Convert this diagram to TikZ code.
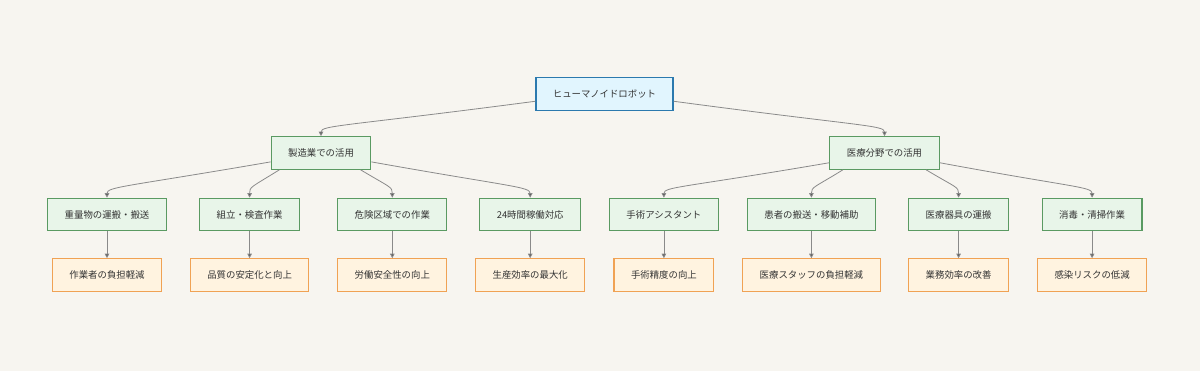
\documentclass[tikz,border=0pt]{standalone}
\usepackage{fontspec}
\usepackage{xcolor}
\usetikzlibrary{arrows.meta}
\newfontfamily\jpfont{Noto Sans CJK JP}
\definecolor{paper}{HTML}{F7F5F0}
\definecolor{rootfill}{HTML}{E1F5FE}
\definecolor{rootline}{HTML}{2B79AE}
\definecolor{leaffill}{HTML}{E8F5E9}
\definecolor{leafline}{HTML}{5A9A62}
\definecolor{gainfill}{HTML}{FFF3E0}
\definecolor{gainline}{HTML}{F0A254}
\definecolor{inkgray}{HTML}{333333}
\definecolor{wiregray}{HTML}{8A8A8A}

\begin{document}
\begin{tikzpicture}[
  x=1pt, y=-1pt,
  every node/.style={rectangle, sharp corners, align=center, font=\jpfont\fontsize{9.4}{11}\selectfont,
    text=inkgray, inner xsep=17pt, minimum height=32.5pt},
  robot/.style={fill=rootfill, draw=rootline, line width=1.3pt},
  usecase/.style={fill=leaffill, draw=leafline, line width=1.1pt},
  effect/.style={fill=gainfill, draw=gainline, line width=1.1pt},
  arrow/.style={-{Triangle[length=4.5pt, width=4.5pt, fill=black!65]}, line width=0.8pt, wiregray}
]

% background and margins
\fill[paper] (0,0) rectangle (1200,371);

% Top node: humanoid robot
\node[robot] (robot) at (604.5,94) {ヒューマノイドロボット};

% Second row: the two fields
\node[usecase] (manu) at (321,153) {製造業での活用};
\node[usecase] (medi) at (884.5,153) {医療分野での活用};

% Third row: manufacturing uses
\node[usecase] (heavy)  at (107,214.5)   {重量物の運搬・搬送};
\node[usecase] (assem)  at (249.6,214.5) {組立・検査作業};
\node[usecase] (danger) at (392.3,214.5) {危険区域での作業};
\node[usecase] (allday) at (530.2,214.5) {24時間稼働対応};

% Third row: medical uses
\node[usecase] (surg)   at (663.9,214.5)  {手術アシスタント};
\node[usecase] (patient) at (811.4,214.5) {患者の搬送・移動補助};
\node[usecase] (equip)  at (958.6,214.5)  {医療器具の運搬};
\node[usecase] (clean)  at (1092.1,214.5) {消毒・清掃作業};

% Bottom row: effects
\node[effect] (relief)  at (107,275)    {作業者の負担軽減};
\node[effect] (quality) at (249.6,275)  {品質の安定化と向上};
\node[effect] (safety)  at (392.3,275)  {労働安全性の向上};
\node[effect] (output)  at (530.2,275)  {生産効率の最大化};
\node[effect] (precise) at (663.9,275)  {手術精度の向上};
\node[effect] (staff)   at (811.4,275)  {医療スタッフの負担軽減};
\node[effect] (work)    at (958.6,275)  {業務効率の改善};
\node[effect] (infect)  at (1092.1,275) {感染リスクの低減};

% Arrows: top to fields
\draw[arrow] (robot.186) .. controls +(-190,25) and +(0,-11) .. (manu.north);
\draw[arrow] (robot.354) .. controls +(187,25) and +(0,-11) .. (medi.north);

% Arrows: fields to uses
\draw[arrow] (manu.190) .. controls +(-145,25) and +(0,-11) .. (heavy.north);
\draw[arrow] (manu.202) .. controls +(-29,18) and +(0,-11) .. (assem.north);
\draw[arrow] (manu.337) .. controls +(30,18) and +(0,-11) .. (danger.north);
\draw[arrow] (manu.350) .. controls +(140,25) and +(0,-11) .. (allday.north);
\draw[arrow] (medi.190) .. controls +(-146,25) and +(0,-11) .. (surg.north);
\draw[arrow] (medi.202) .. controls +(-29,18) and +(0,-11) .. (patient.north);
\draw[arrow] (medi.338) .. controls +(30,18) and +(0,-11) .. (equip.north);
\draw[arrow] (medi.350) .. controls +(135,25) and +(0,-11) .. (clean.north);

% Arrows: uses to effects
\draw[arrow] (heavy) -- (relief);
\draw[arrow] (assem) -- (quality);
\draw[arrow] (danger) -- (safety);
\draw[arrow] (allday) -- (output);
\draw[arrow] (surg) -- (precise);
\draw[arrow] (patient) -- (staff);
\draw[arrow] (equip) -- (work);
\draw[arrow] (clean) -- (infect);

\end{tikzpicture}
\end{document}
